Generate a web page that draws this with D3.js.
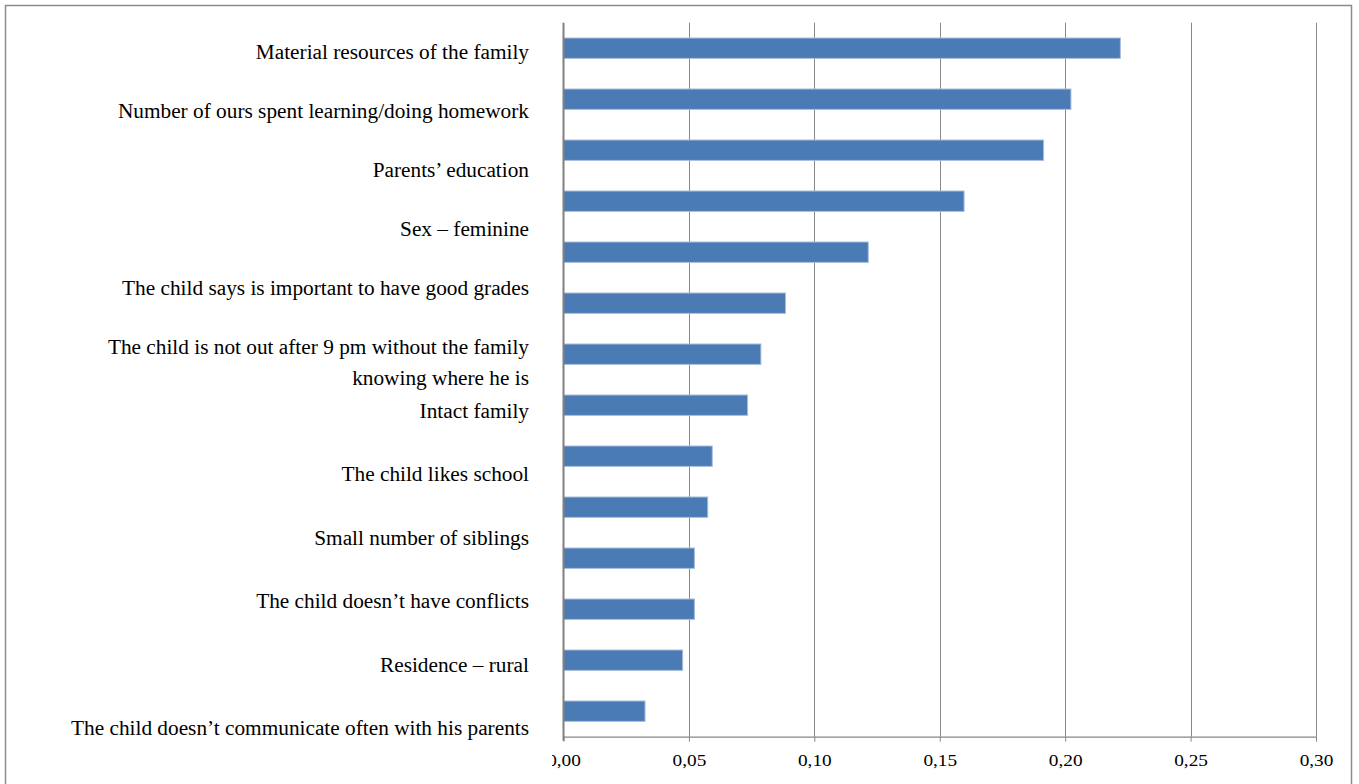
<!DOCTYPE html>
<html>
<head>
<meta charset="utf-8">
<script src="https://cdn.jsdelivr.net/npm/d3@7"></script>
<style>
  html, body { margin: 0; padding: 0; background: #ffffff; }
  svg { display: block; }
</style>
</head>
<body>
<svg id="chart" width="1359" height="784"></svg>
<script>
// ---- data ----
const barKeys = ["b1","b2","b3","b4","b5","b6","b7","b8","b9","b10","b11","b12","b13","b14"];
const barValues = [0.222, 0.2023, 0.1914, 0.1597, 0.1215, 0.0885, 0.0787, 0.0734, 0.0593, 0.0575, 0.0522, 0.0522, 0.0475, 0.0325];
const labels = [
  ["Material resources of the family"],
  ["Number of ours spent learning/doing homework"],
  ["Parents\u2019 education"],
  ["Sex \u2013 feminine"],
  ["The child says is important to have good grades"],
  ["The child is not out after 9 pm without the family", "knowing where he is"],
  ["Intact family"],
  ["The child likes school"],
  ["Small number of siblings"],
  ["The child doesn\u2019t have conflicts"],
  ["Residence \u2013 rural"],
  ["The child doesn\u2019t communicate often with his parents"]
];
const tickValues = [0, 0.05, 0.10, 0.15, 0.20, 0.25, 0.30];
const tickLabels = ["0,00", "0,05", "0,10", "0,15", "0,20", "0,25", "0,30"];

// ---- layout ----
const svg = d3.select("#chart");
const plot = { left: 563.5, right: 1316, top: 22.7, bottom: 736.7 };
const labelRight = 529;
const serif = "'Liberation Serif', 'Times New Roman', serif";

// outer frame
svg.append("rect")
  .attr("x", 5.5).attr("y", 5.5)
  .attr("width", 1346).attr("height", 800)
  .attr("fill", "none").attr("stroke", "#8c8c8c").attr("stroke-width", 1.5);

const x = d3.scaleLinear().domain([0, 0.30]).range([plot.left, plot.right]);
const y = d3.scaleBand().domain(barKeys).range([plot.top, plot.bottom])
  .paddingInner(0.6).paddingOuter(0.3);

// gridlines
svg.append("g")
  .selectAll("line")
  .data(tickValues.slice(1))
  .join("line")
  .attr("x1", d => Math.round(x(d)) + 0.5).attr("x2", d => Math.round(x(d)) + 0.5)
  .attr("y1", plot.top).attr("y2", plot.bottom)
  .attr("stroke", "#878787").attr("stroke-width", 1);

// bars
svg.append("g")
  .selectAll("rect")
  .data(barValues)
  .join("rect")
  .attr("x", x(0))
  .attr("y", (d, i) => y(barKeys[i]))
  .attr("width", d => x(d) - x(0))
  .attr("height", y.bandwidth())
  .attr("fill", "#4a7bb4")
  .attr("stroke", "#a8bedc")
  .attr("stroke-width", 1);

// x axis (left edge of the first tick label is cut, as in the original)
const clip = svg.append("defs").append("clipPath").attr("id", "axclip");
clip.append("rect").attr("x", 552).attr("y", 700).attr("width", 800).attr("height", 84);

const xAxis = d3.axisBottom(x)
  .tickValues(tickValues)
  .tickFormat((d, i) => tickLabels[i])
  .tickSize(5)
  .tickSizeOuter(0)
  .tickPadding(13);

const gx = svg.append("g")
  .attr("clip-path", "url(#axclip)")
  .append("g")
  .attr("transform", `translate(0,${plot.bottom})`)
  .call(xAxis);
gx.attr("font-size", null).attr("font-family", null);
gx.select(".domain").attr("stroke", "#878787").attr("stroke-width", 1.2);
gx.selectAll(".tick line").attr("stroke", "#878787");
gx.selectAll(".tick text")
  .style("font-family", serif).style("font-size", "16.5px")
  .attr("transform", "scale(1.17,1)").attr("fill", "#000");

// y axis line (left, no ticks)
svg.append("line")
  .attr("x1", x(0)).attr("x2", x(0))
  .attr("y1", plot.top).attr("y2", plot.bottom + 4)
  .attr("stroke", "#808080").attr("stroke-width", 2);

// category labels (text flow positions, independent of bar bands as in the original)
const labelY = d3.scaleLinear().domain([0, 5, 11]).range([59.3, 354.3, 735]);
const lineGap = 30.7;
const lg = svg.append("g")
  .attr("font-family", serif).attr("font-size", 21.3).attr("fill", "#000")
  .attr("text-anchor", "end");
labels.forEach((lines, i) => {
  const t = lg.append("text").attr("x", labelRight).attr("y", labelY(i));
  lines.forEach((ln, j) => {
    t.append("tspan").attr("x", labelRight).attr("y", labelY(i) + j * lineGap).text(ln);
  });
});
</script>
</body>
</html>
